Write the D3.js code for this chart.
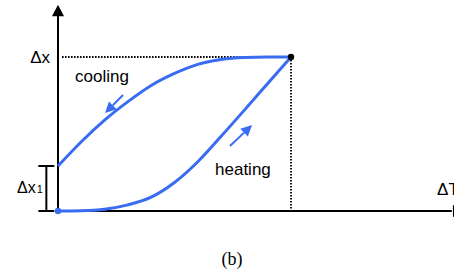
<!DOCTYPE html>
<html><head><meta charset="utf-8">
<script src="https://cdn.jsdelivr.net/npm/d3@7"></script>
<style>html,body{margin:0;padding:0;background:#fff;}svg{display:block;}</style>
</head><body>
<svg id="c" width="454" height="271"></svg>
<script>
// normalized ΔT (x) and Δx (y) values
const coolingT = [0, 0.1, 0.2, 0.3, 0.4, 0.5, 0.6, 0.7, 0.8, 0.9, 1];
const coolingX = [0.292, 0.45, 0.59, 0.71, 0.815, 0.893, 0.952, 0.984, 0.997, 1, 1];
const heatingT = [0, 0.1, 0.2, 0.3, 0.4, 0.5, 0.6, 0.7, 0.8, 0.9, 1];
const heatingX = [0, 0.002, 0.012, 0.04, 0.09, 0.185, 0.32, 0.485, 0.655, 0.828, 1];
const dx1 = 0.292;
const labels = ["cooling", "heating", "Δx", "Δx", "1", "ΔT", "(b)"];

const W = 454, H = 271;
const blue = "#3a6cf2";
const svg = d3.select("#c");
const x = d3.scaleLinear().domain([0, 1]).range([58, 291]);
const y = d3.scaleLinear().domain([0, 1]).range([211, 57]);

const line = d3.line().x(d => x(d[0])).y(d => y(d[1])).curve(d3.curveMonotoneX);

// dotted guides
svg.append("path").attr("d", `M${x(0)+4},${y(1)}H${x(1)}`)
  .attr("stroke", "#000").attr("stroke-width", 1.8).attr("stroke-dasharray", "1.6 1.4").attr("fill", "none");
svg.append("path").attr("d", `M${x(1)},${y(1)}V${y(0)}`)
  .attr("stroke", "#000").attr("stroke-width", 1.8).attr("stroke-dasharray", "1.6 1.4").attr("fill", "none");

// axes
svg.append("line").attr("x1", x(0)).attr("x2", x(0)).attr("y1", y(0)).attr("y2", y(1.27))
  .attr("stroke", "#000").attr("stroke-width", 2);
svg.append("path").attr("d", `M${x(0)},${y(1.34)}L${x(0)-6},${y(1.265)}L${x(0)+6},${y(1.265)}Z`).attr("fill", "#000");
svg.append("line").attr("x1", x(-0.005)).attr("x2", x(1.69)).attr("y1", y(0)).attr("y2", y(0))
  .attr("stroke", "#000").attr("stroke-width", 2);
svg.append("path").attr("d", `M${x(1.74)},${y(0)}L${x(1.695)},${y(0)-6}L${x(1.695)},${y(0)+6}Z`).attr("fill", "#000");

// Δx1 bracket
const bx = x(-0.05);
svg.append("path").attr("d", `M${bx},${y(dx1)}V${y(0)}M${bx-8},${y(dx1)}H${bx+8}M${bx-8},${y(0)}H${bx+8}`)
  .attr("stroke", "#000").attr("stroke-width", 2).attr("fill", "none");

// curves
svg.append("path").attr("d", line(coolingT.map((t, i) => [t, coolingX[i]])))
  .attr("stroke", blue).attr("stroke-width", 3).attr("fill", "none");
svg.append("path").attr("d", line(heatingT.map((t, i) => [t, heatingX[i]])))
  .attr("stroke", blue).attr("stroke-width", 3).attr("fill", "none");

// points
svg.append("circle").attr("cx", x(0)).attr("cy", y(0)).attr("r", 3.2).attr("fill", blue);
svg.append("circle").attr("cx", x(1)).attr("cy", y(1)).attr("r", 3.2).attr("fill", "#000");

// direction arrows
function arrow(x0, y0, x1, y1) {
  const X0 = x(x0), Y0 = y(y0), X1 = x(x1), Y1 = y(y1);
  const a = Math.atan2(Y1 - Y0, X1 - X0);
  const L = 11, w = 5.5;
  const bxp = X1 - L * Math.cos(a), byp = Y1 - L * Math.sin(a);
  svg.append("line").attr("x1", X0).attr("y1", Y0).attr("x2", bxp).attr("y2", byp)
    .attr("stroke", blue).attr("stroke-width", 2);
  svg.append("path").attr("d",
    `M${X1},${Y1}L${bxp - w*Math.sin(a)},${byp + w*Math.cos(a)}L${bxp + w*Math.sin(a)},${byp - w*Math.cos(a)}Z`)
    .attr("fill", blue);
}
arrow(0.279, 0.753, 0.202, 0.636);
arrow(0.738, 0.422, 0.833, 0.558);

// labels
const sans = "Liberation Sans, Arial, sans-serif";
svg.append("text").attr("x", x(0.073)).attr("y", y(0.838)).attr("font-family", sans).attr("font-size", 17).text(labels[0]);
svg.append("text").attr("x", x(0.674)).attr("y", y(0.234)).attr("font-family", sans).attr("font-size", 17).text(labels[1]);
svg.append("text").attr("x", x(-0.034)).attr("y", y(0.96)).attr("text-anchor", "end").attr("font-family", sans).attr("font-size", 17).text(labels[2]);
const t1 = svg.append("text").attr("x", x(-0.065)).attr("y", y(0.117)).attr("text-anchor", "end").attr("font-family", sans).attr("font-size", 16);
t1.append("tspan").text(labels[3]);
t1.append("tspan").attr("font-size", 11).attr("dx", 1).text(labels[4]);
svg.append("text").attr("x", x(1.627)).attr("y", y(0.104)).attr("font-family", sans).attr("font-size", 17).text(labels[5]);
svg.append("text").attr("x", 232).attr("y", 265).attr("text-anchor", "middle")
  .attr("font-family", "Liberation Serif, Times New Roman, serif").attr("font-size", 18).text(labels[6]);
</script>
</body></html>
